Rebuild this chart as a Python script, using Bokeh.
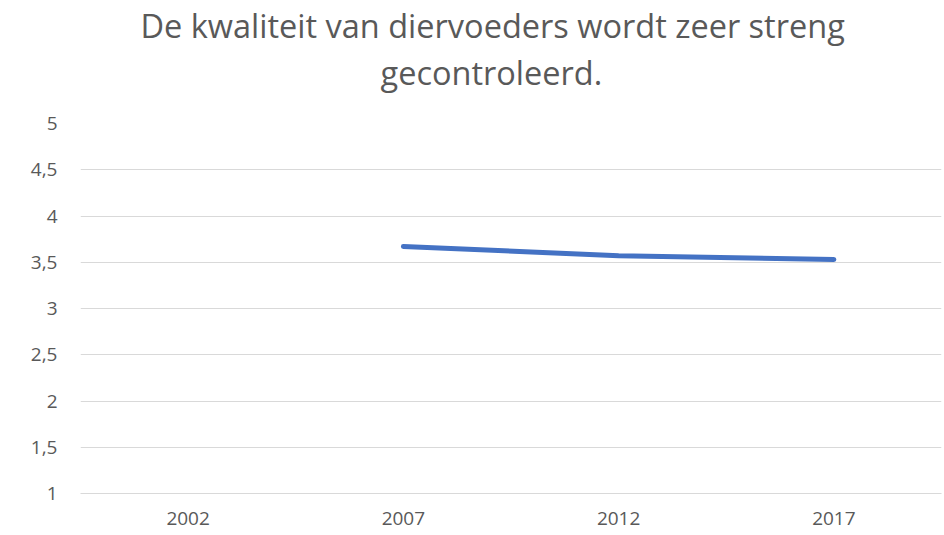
from bokeh.plotting import figure
from bokeh.models import FixedTicker, Title, ColumnDataSource
from bokeh.embed import file_html
from bokeh.resources import INLINE

title_lines = ["De kwaliteit van diervoeders wordt zeer streng", "gecontroleerd."]
years = ["2002", "2007", "2012", "2017"]
values = [None, 3.67, 3.57, 3.53]
y_ticks = [1, 1.5, 2, 2.5, 3, 3.5, 4, 4.5, 5]
y_tick_labels = ["1", "1,5", "2", "2,5", "3", "3,5", "4", "4,5", "5"]

TEXT = "#595959"
GRID = "#d9d9d9"
FONT = "Open Sans"

p = figure(width=944, height=535, x_range=years, y_range=(1, 5),
           output_backend="svg", toolbar_location=None,
           min_border_left=80, min_border_right=3, min_border_top=123,
           min_border_bottom=42)
p.title.visible = False
p.outline_line_color = None

xs = [y for y, v in zip(years, values) if v is not None]
vs = [v for v in values if v is not None]
src = ColumnDataSource(dict(x=xs, y=vs))
p.line("x", "y", source=src, line_color="#4472C4", line_width=5, line_cap="round", line_join="round")

spacer = Title(text=" ", text_font=FONT, text_font_size="1px", standoff=26)
t2 = Title(text=title_lines[1], text_font=FONT, text_font_size="32.5px", text_color=TEXT,
           text_font_style="normal", align="left", offset=300, standoff=0)
t1 = Title(text=title_lines[0], text_font=FONT, text_font_size="32.5px", text_color=TEXT,
           text_font_style="normal", align="left", offset=60, standoff=0)
p.add_layout(spacer, "above")
p.add_layout(t2, "above")
p.add_layout(t1, "above")

p.yaxis.ticker = FixedTicker(ticks=y_ticks)
p.yaxis.major_label_overrides = {t: l for t, l in zip(y_ticks, y_tick_labels)}
p.yaxis.axis_line_color = None
p.yaxis.major_tick_line_color = None
p.yaxis.minor_tick_line_color = None
p.yaxis.major_tick_out = 0
p.yaxis.major_label_standoff = 23
p.yaxis.major_label_text_font = FONT
p.yaxis.major_label_text_font_size = "19px"
p.yaxis.major_label_text_color = TEXT

p.xaxis.axis_line_color = GRID
p.xaxis.axis_line_width = 1
p.xaxis.major_tick_line_color = None
p.xaxis.minor_tick_line_color = None
p.xaxis.major_tick_out = 0
p.xaxis.major_label_standoff = 18
p.xaxis.major_label_text_font = FONT
p.xaxis.major_label_text_font_size = "19px"
p.xaxis.major_label_text_color = TEXT

p.xgrid.grid_line_color = None
p.ygrid.grid_line_color = GRID
p.ygrid.grid_line_width = 1

open("out.html", "w").write(file_html(p, INLINE))
